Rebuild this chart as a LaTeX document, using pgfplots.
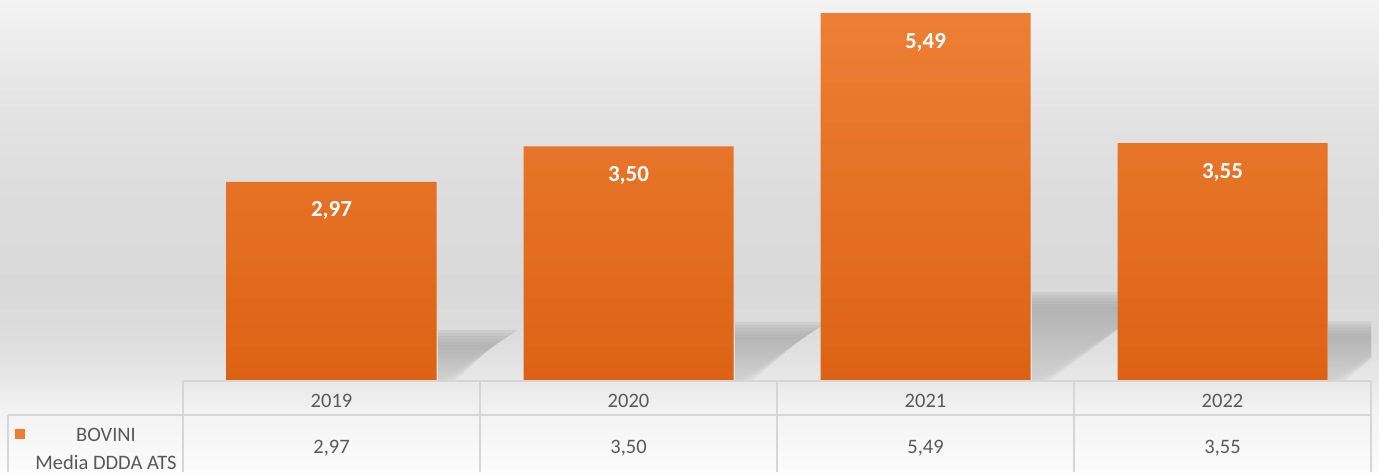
\documentclass[border=0pt]{standalone}
\usepackage{pgfplots}
\usepackage{pgfplotstable}
\pgfplotsset{compat=1.18}
\usepackage{fontspec}
\setmainfont{Carlito}
\definecolor{txt}{RGB}{89,89,89}
\definecolor{gridc}{RGB}{214,214,214}
\definecolor{orTop}{RGB}{237,127,52}
\definecolor{orBot}{RGB}{221,98,20}
\definecolor{shTop}{RGB}{172,172,172}
\definecolor{shBot}{RGB}{208,208,208}
\definecolor{bgA}{RGB}{251,251,251}
\definecolor{bgB}{RGB}{244,244,244}
\definecolor{bgC}{RGB}{232,232,232}
\definecolor{bgD}{RGB}{221,221,221}
\definecolor{bgE}{RGB}{217,217,217}
\definecolor{bgF}{RGB}{220,220,220}
\definecolor{bgG}{RGB}{228,228,228}
\definecolor{bgH}{RGB}{243,243,243}
\pgfdeclareverticalshading{bgshade}{100bp}{color(0bp)=(bgA); color(25bp)=(bgA); color(31bp)=(bgB); color(34.7bp)=(bgC); color(39bp)=(bgD); color(44.3bp)=(bgE); color(53.8bp)=(bgF); color(64.4bp)=(bgG); color(75bp)=(bgH); color(100bp)=(bgH)}
\pgfplotstableread{
x y
0 2.97
1 3.50
2 5.49
3 3.55
}\datatable
\begin{document}
\begin{tikzpicture}[x=1pt,y=1pt]
\useasboundingbox (0,0) rectangle (1379,472);
\shade[shading=bgshade] (0,0) rectangle (1379,472);
% soft perspective shadows behind the bars
\begin{scope}
\clip (0,0) rectangle (1371,472);
\foreach \xr/\v in {438/2.97, 735/3.50, 1032/5.49, 1328/3.55} {
  \pgfmathsetmacro\h{\v*67.03}
  \pgfmathsetmacro\t{0.225*\h+6}
  \pgfmathsetmacro\L{0.36*\h+8}
  \foreach \k in {0,...,5} {
    \shade[top color=shTop, bottom color=shBot, opacity=0.28]
      (\xr,91) -- (\xr,91+\t-3*\k) -- (\xr+\L-5*\k,91+\t-3*\k) -- (\xr+2+3*\k,91) -- cycle;
  }
}
\end{scope}
\begin{axis}[
  at={(183pt,91pt)}, anchor=south west,
  scale only axis, width=1188pt, height=381pt,
  xmin=-0.5, xmax=3.5, ymin=0, ymax=5.684,
  axis line style={draw=none}, major tick length=0pt, ytick=\empty,
  xtick={0,1,2,3}, xticklabels={2019,2020,2021,2022},
  xticklabel style={font=\fontsize{20.5}{24}\selectfont, text=txt, anchor=base, yshift=-26pt, inner sep=0pt},
  clip=false,
]
\addplot[ybar, bar width=210pt, draw=none, top color=orTop, bottom color=orBot,
  nodes near coords={\pgfmathprintnumber[fixed,fixed zerofill,precision=2,use comma,assume math mode=true]{\pgfplotspointmeta}},
  every node near coord/.append style={anchor=base, yshift=-35pt, inner sep=0pt, text=white, font=\bfseries\fontsize{23}{26}\selectfont}]
  table[x=x, y=y] {\datatable};
\addplot[only marks, mark=*, mark size=0pt, mark options={draw=none, fill=none}, point meta=explicit,
  nodes near coords={\pgfmathprintnumber[fixed,fixed zerofill,precision=2,use comma,assume math mode=true]{\pgfplotspointmeta}},
  every node near coord/.append style={anchor=base, yshift=-72pt, inner sep=0pt, text=txt, font=\fontsize{20.5}{24}\selectfont}]
  table[x=x, y expr=0, meta=y] {\datatable};
\end{axis}
% data table grid
\draw[gridc, line width=1.3pt] (183,91) -- (1371,91);
\draw[gridc, line width=1.3pt] (8,57) -- (1371,57);
\foreach \xx in {183,480,777,1074,1371} {\draw[gridc, line width=1.3pt] (\xx,91) -- (\xx,0);}
\draw[gridc, line width=1.3pt] (8,57) -- (8,0);
% legend key
\fill[orTop] (15,33) rectangle (25,43);
\node[anchor=base, inner sep=0pt, text=txt, font=\fontsize{20.5}{24}\selectfont] at (106,31) {BOVINI};
\node[anchor=base, inner sep=0pt, text=txt, font=\fontsize{20.5}{24}\selectfont] at (106,3) {Media DDDA ATS};
\end{tikzpicture}
\end{document}
